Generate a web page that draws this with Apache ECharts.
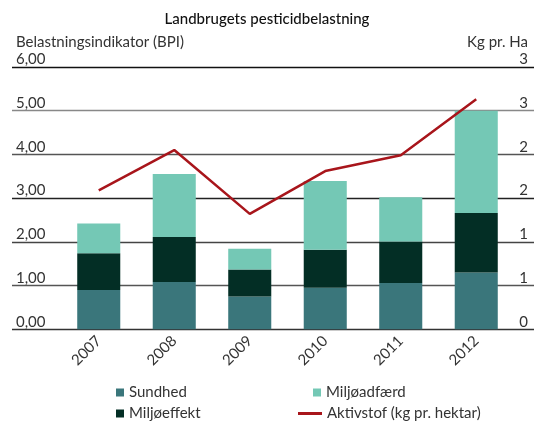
<!DOCTYPE html>
<html>
<head>
<meta charset="utf-8">
<script src="https://cdn.jsdelivr.net/npm/echarts@6/dist/echarts.min.js"></script>
<style>
  html, body { margin: 0; padding: 0; background: #fff; }
  #chart { width: 534px; height: 423px; }
</style>
</head>
<body>
<div id="chart"></div>
<script>
// data
var years = ["2007", "2008", "2009", "2010", "2011", "2012"];
var sundhed = [0.90, 1.08, 0.75, 0.95, 1.06, 1.30];
var miljoeffekt = [0.84, 1.03, 0.62, 0.87, 0.95, 1.36];
var miljoadfaerd = [0.68, 1.44, 0.47, 1.57, 1.01, 2.34];
var aktivstof = [1.59, 2.05, 1.32, 1.81, 1.99, 2.63];
var leftTicks = ["0,00", "1,00", "2,00", "3,00", "4,00", "5,00", "6,00"];
var rightTicks = ["0", "1", "1", "2", "2", "3", "3"];

var font = "Lato, 'Noto Sans', sans-serif";
var txt = "#333";

var chart = echarts.init(document.getElementById("chart"));

// one legend per item so each can sit where the reference has it
function legendItem(name, left, top, w, h) {
    return {
        data: [name],
        left: left,
        top: top,
        itemWidth: w,
        itemHeight: h,
        icon: "rect",
        selectedMode: false,
        textStyle: { fontFamily: font, fontSize: 15, color: txt }
    };
}

chart.setOption({
    animation: false,
    title: {
        text: "Landbrugets pesticidbelastning",
        left: "center",
        top: 7,
        textStyle: { fontFamily: font, fontSize: 15, fontWeight: 500, color: "#111" }
    },
    graphic: [
        { type: "text", left: 16, top: 35, style: { text: "Belastningsindikator (BPI)", font: "15px " + font, fill: txt } },
        { type: "text", right: 6, top: 35, style: { text: "Kg pr. Ha", font: "15px " + font, fill: txt } }
    ],
    legend: [
        legendItem("Sundhed", 111, 380, 8, 8),
        legendItem("Miljøeffekt", 111, 401, 8, 8),
        legendItem("Miljøadfærd", 308, 380, 8, 8),
        legendItem("Aktivstof (kg pr. hektar)", 293, 401, 24, 3)
    ],
    // grid 0: full width, only for the gridlines and tick labels
    // grid 1: the plot area that holds the bars and the line
    grid: [
        { left: 12, right: 0, top: 67, bottom: 93.7 },
        { left: 61, right: 20, top: 67, bottom: 93.7 }
    ],
    xAxis: [
        { gridIndex: 0, type: "value", show: false, min: 0, max: 1 },
        {
            gridIndex: 1,
            type: "category",
            data: years,
            axisLine: { show: false },
            axisTick: { show: false },
            axisLabel: { rotate: 45, margin: 9, fontFamily: font, fontSize: 15, color: txt }
        }
    ],
    yAxis: [
        {
            gridIndex: 0,
            position: "left",
            min: 0, max: 6, interval: 1,
            axisLine: { show: false },
            axisTick: { show: false },
            axisLabel: {
                inside: true, margin: 4, verticalAlign: "bottom",
                fontFamily: font, fontSize: 15, color: txt,
                formatter: function (v) { return leftTicks[Math.round(v)]; }
            },
            splitLine: {
                lineStyle: { color: ["#333", "#555", "#444", "#222", "#555", "#888", "#111"], width: 1.3 }
            }
        },
        {
            gridIndex: 0,
            position: "right",
            min: 0, max: 3, interval: 0.5,
            axisLine: { show: false },
            axisTick: { show: false },
            splitLine: { show: false },
            axisLabel: {
                inside: true, margin: 6, verticalAlign: "bottom",
                fontFamily: font, fontSize: 15, color: txt,
                formatter: function (v) { return rightTicks[Math.round(v * 2)]; }
            }
        },
        { gridIndex: 1, min: 0, max: 6, show: false },
        { gridIndex: 1, min: 0, max: 3, show: false }
    ],
    series: [
        {
            name: "Sundhed", type: "bar", stack: "bpi",
            xAxisIndex: 1, yAxisIndex: 2, barWidth: "57%",
            itemStyle: { color: "#3a767b" },
            data: sundhed
        },
        {
            name: "Miljøeffekt", type: "bar", stack: "bpi",
            xAxisIndex: 1, yAxisIndex: 2,
            itemStyle: { color: "#032e25" },
            data: miljoeffekt
        },
        {
            name: "Miljøadfærd", type: "bar", stack: "bpi",
            xAxisIndex: 1, yAxisIndex: 2,
            itemStyle: { color: "#74c8b5" },
            data: miljoadfaerd
        },
        {
            name: "Aktivstof (kg pr. hektar)", type: "line",
            xAxisIndex: 1, yAxisIndex: 3,
            symbol: "none",
            itemStyle: { color: "#a8151b" },
            lineStyle: { color: "#a8151b", width: 2.5 },
            data: aktivstof
        }
    ]
});
</script>
</body>
</html>
